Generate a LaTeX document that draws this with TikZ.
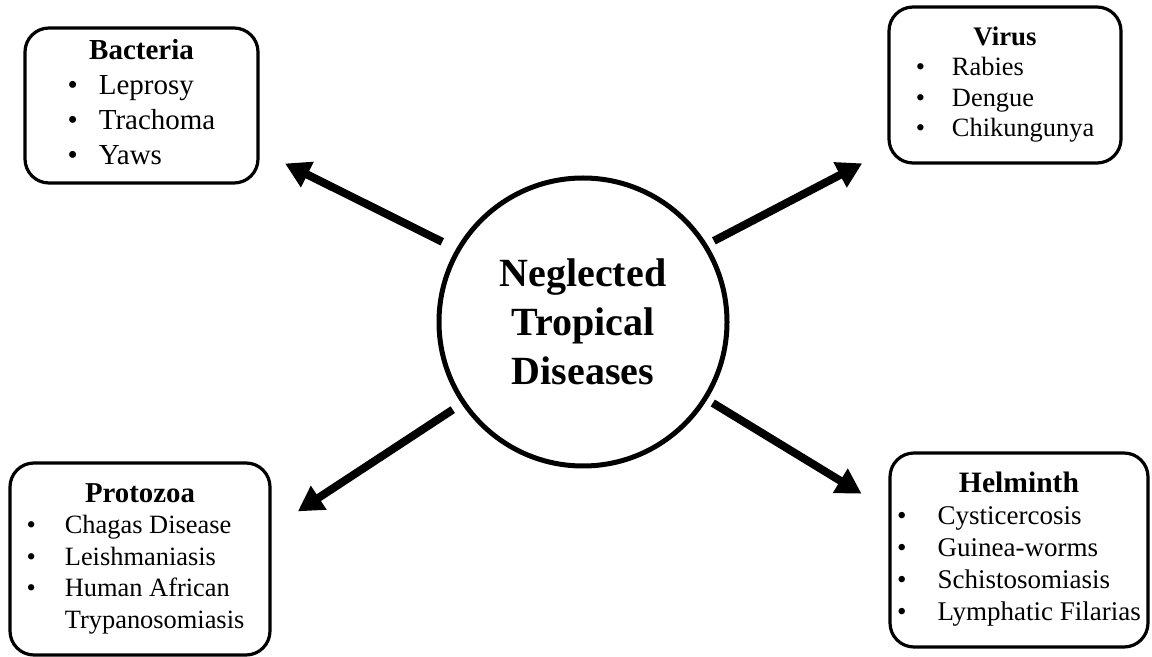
\documentclass[tikz,border=0pt]{standalone}
\usepackage{fontspec}
\setmainfont{Liberation Serif}
\usetikzlibrary{arrows.meta}

\begin{document}
\begin{tikzpicture}[x=0.5pt,y=-0.5pt,
    groupbox/.style={draw,line width=1.6pt,rounded corners=12pt,inner sep=0pt},
    hubnode/.style={draw,circle,line width=2.5pt,inner sep=0pt,minimum size=144pt,
      align=center,font=\fontsize{20}{24.5}\selectfont\bfseries},
    bigarrow/.style={line width=4pt,-{Triangle[length=12.5pt,width=13.5pt]}}]
  \useasboundingbox (0,0) rectangle (1152,657);

  \node[hubnode] (ntd) at (583,322) {Neglected\\Tropical\\Diseases};

  \node[groupbox,minimum width=116.5pt,minimum height=77.5pt] (bacteria) at (141.5,105.5)
    {\fontsize{14.5}{17.5}\selectfont
     \begin{tabular}{@{}l@{\hspace{10.5pt}}l@{}}
       \multicolumn{2}{c}{\bfseries Bacteria}\\
       \textbullet & Leprosy\\
       \textbullet & Trachoma\\
       \textbullet & Yaws
     \end{tabular}};

  \node[groupbox,minimum width=116pt,minimum height=78pt] (virus) at (1005,85)
    {\fontsize{13.2}{15.25}\selectfont
     \begin{tabular}{@{}l@{\hspace{13.5pt}}l@{}}
       \multicolumn{2}{c}{\fontsize{13.4}{15.25}\selectfont\bfseries Virus}\\
       \textbullet & Rabies\\
       \textbullet & Dengue\\
       \textbullet & Chikungunya
     \end{tabular}};

  \node[groupbox,minimum width=130pt,minimum height=96pt] (protozoa) at (140,559)
    {\fontsize{13.2}{15.75}\selectfont
     \begin{tabular}{@{}l@{\hspace{14.5pt}}l@{\hspace{4.5pt}}}
       \multicolumn{2}{c}{\fontsize{14.4}{15.75}\selectfont\bfseries Protozoa}\\
       \textbullet & Chagas Disease\\
       \textbullet & Leishmaniasis\\
       \textbullet & Human African\\
                   & Trypanosomiasis
     \end{tabular}};

  \node[groupbox,minimum width=129pt,minimum height=97pt] (helminth) at (1019,550)
    {\fontsize{13.5}{16}\selectfont
     \begin{tabular}{@{}l@{\hspace{15.5pt}}l@{}}
       \multicolumn{2}{c}{\fontsize{14.8}{16}\selectfont\bfseries Helminth}\\
       \textbullet & Cysticercosis\\
       \textbullet & Guinea-worms\\
       \textbullet & Schistosomiasis\\
       \textbullet & Lymphatic Filarias
     \end{tabular}};

  % arrows from the hub to the four groups
  \draw[bigarrow,shorten <=7.75pt,shorten >=14.2pt] (ntd.150) -- (bacteria.-21);
  \draw[bigarrow,shorten <=3.75pt,shorten >=14.2pt] (ntd.32) -- (virus.209.6);
  \draw[bigarrow,shorten <=5.25pt,shorten >=15.7pt] (ntd.214) -- (protozoa.13.4);
  \draw[bigarrow,shorten <=3.25pt,shorten >=15.7pt] (ntd.-32) -- (helminth.163.8);
\end{tikzpicture}
\end{document}
